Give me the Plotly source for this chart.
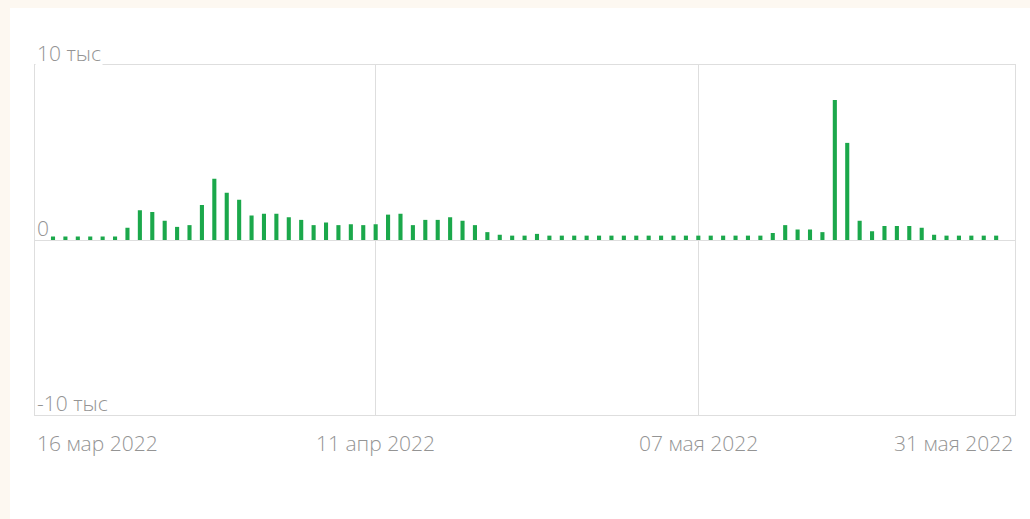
import pandas as pd
import plotly.graph_objects as go

# ---- data ----
start_date = "2022-03-16"
values = [
    200, 200, 200, 200, 200, 200, 700, 1700, 1600, 1100,
    750, 850, 2000, 3500, 2700, 2300, 1400, 1500, 1500, 1300,
    1150, 850, 1000, 850, 900, 850, 900, 1450, 1500, 850,
    1150, 1150, 1300, 1100, 850, 450, 300, 250, 250, 350,
    250, 250, 250, 250, 250, 250, 250, 250, 250, 250,
    250, 250, 250, 250, 250, 250, 250, 250, 400, 850,
    600, 600, 450, 8000, 5550, 1100, 500, 800, 800, 800,
    700, 300, 250, 250, 250, 250, 250,
]
dates = pd.date_range(start_date, periods=len(values), freq="D")

x_tick_dates = ["2022-03-16", "2022-04-11", "2022-05-07", "2022-05-31"]
x_tick_labels = ["16 мар 2022", "11 апр 2022", "07 мая 2022", "31 мая 2022"]
x_grid_dates = ["2022-04-11", "2022-05-07"]

y_tick_vals = [10000, 0, -10000]
y_tick_labels = ["10 тыс", "0", "-10 тыс"]

# ---- layout geometry ----
W, H = 1030, 519
L, R, T, B = 35, 15, 65, 104
pw, ph = W - L - R, H - T - B
day_px = 12.41
first_px = 53

x0 = pd.Timestamp(start_date) - pd.Timedelta(days=(first_px - L) / day_px)
x1 = pd.Timestamp(start_date) + pd.Timedelta(days=(W - R - first_px) / day_px)

GREEN = "#1ba84b"
GRID = "#dedede"
TXT = "#949494"
FONT = "Open Sans"
FS = 21

fig = go.Figure()
fig.add_trace(go.Bar(
    x=dates, y=values,
    marker=dict(color=GREEN, line=dict(width=0)),
    width=0.33 * 86400000,
    hoverinfo="x+y",
))

annotations = []
for v, lab in zip(y_tick_vals, y_tick_labels):
    annotations.append(dict(
        x=0, xref="paper", y=v, yref="y", text=lab, showarrow=False,
        xanchor="left", yanchor="bottom", xshift=0, yshift=-4,
        font=dict(family=FONT, size=FS, color=TXT, weight=300),
        bgcolor="white" if v == 10000 else None,
    ))
for i, (d, lab) in enumerate(zip(x_tick_dates, x_tick_labels)):
    if i == 0:
        xa, xv, xref = "left", 0, "paper"
    elif i == len(x_tick_dates) - 1:
        xa, xv, xref = "right", 1, "paper"
    else:
        xa, xv, xref = "center", d, "x"
    annotations.append(dict(
        x=xv, xref=xref, y=0, yref="paper", text=lab, showarrow=False,
        xanchor=xa, yanchor="top", yshift=-12,
        font=dict(family=FONT, size=FS, color=TXT, weight=300),
    ))

fig.update_layout(
    width=W, height=H,
    margin=dict(l=L, r=R, t=T, b=B),
    paper_bgcolor="#fdf8f1",
    plot_bgcolor="white",
    showlegend=False,
    bargap=0.67,
    annotations=annotations,
    shapes=[dict(
        type="rect", xref="paper", yref="paper", layer="below",
        x0=(10 - L) / pw, x1=(W + 5 - L) / pw,
        y0=(T + ph - H - 5) / ph, y1=(T + ph - 8) / ph,
        fillcolor="white", line=dict(width=0),
    )],
    xaxis=dict(
        type="date", range=[x0, x1],
        tickvals=x_grid_dates, showticklabels=False,
        showgrid=True, gridcolor=GRID, gridwidth=1,
        showline=True, linecolor=GRID, mirror=True, ticks="",
        zeroline=False,
    ),
    yaxis=dict(
        range=[-10000, 10000], tickvals=y_tick_vals, showticklabels=False,
        showgrid=True, gridcolor=GRID, zeroline=True, zerolinecolor=GRID,
        zerolinewidth=1,
        showline=True, linecolor=GRID, mirror=True, ticks="",
    ),
)

fig.write_html(
    "out.html",
    config={"displayModeBar": False},
    post_script="document.body.style.margin='0';document.body.style.background='#fdf8f1';",
)
